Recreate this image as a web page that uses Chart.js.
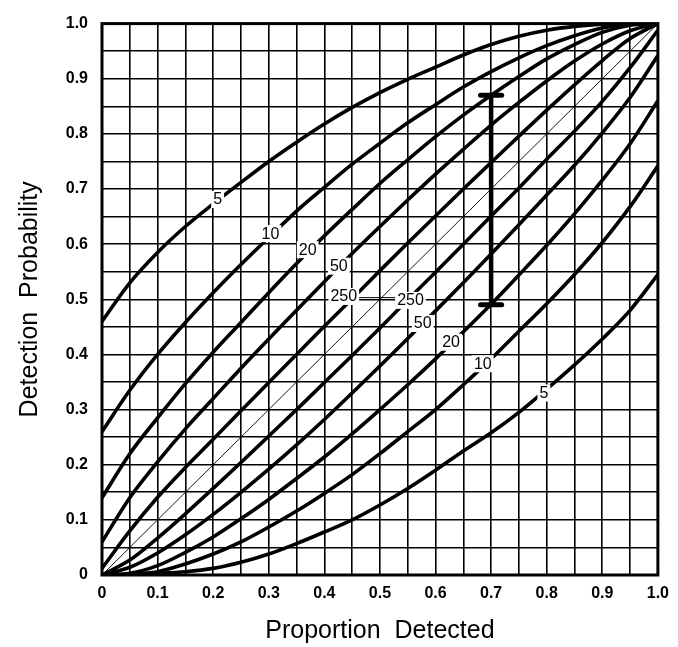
<!DOCTYPE html>
<html>
<head>
<meta charset="utf-8">
<title>Detection Probability</title>
<script src="https://cdn.jsdelivr.net/npm/chart.js@4.4.0/dist/chart.umd.min.js"></script>
<style>
  html, body { margin: 0; padding: 0; background: #fff; }
  #grafica { display: block; }
</style>
</head>
<body>
<canvas id="grafica" width="678" height="647"></canvas>
<script>
// Proportion detected (x) for every curve
var proporcion = [0, 0.05, 0.1, 0.15, 0.2, 0.25, 0.3, 0.35, 0.4, 0.45, 0.5, 0.55, 0.6, 0.65, 0.7, 0.75, 0.8, 0.85, 0.9, 0.95, 1.0];

// Upper limits
var sup5   = [0.46, 0.53, 0.585, 0.632, 0.673, 0.712, 0.75, 0.785, 0.818, 0.848, 0.875, 0.899, 0.921, 0.943, 0.962, 0.977, 0.988, 0.995, 0.999, 1, 1];
var sup10  = [0.26, 0.335, 0.4, 0.458, 0.512, 0.563, 0.612, 0.66, 0.703, 0.745, 0.783, 0.82, 0.853, 0.885, 0.913, 0.938, 0.96, 0.978, 0.992, 0.999, 1];
var sup20  = [0.14, 0.22, 0.285, 0.347, 0.404, 0.458, 0.512, 0.565, 0.615, 0.663, 0.71, 0.753, 0.795, 0.834, 0.87, 0.904, 0.936, 0.962, 0.984, 0.997, 1];
var sup50  = [0.06, 0.14, 0.205, 0.265, 0.32, 0.375, 0.428, 0.48, 0.532, 0.583, 0.632, 0.68, 0.727, 0.772, 0.816, 0.857, 0.896, 0.932, 0.963, 0.987, 1];
var sup250 = [0.012, 0.08, 0.141, 0.195, 0.246, 0.298, 0.349, 0.4, 0.451, 0.501, 0.552, 0.602, 0.651, 0.7, 0.748, 0.796, 0.843, 0.889, 0.933, 0.973, 1];

// Lower limits
var inf250 = [0, 0.027, 0.067, 0.111, 0.157, 0.204, 0.252, 0.3, 0.349, 0.398, 0.448, 0.499, 0.549, 0.6, 0.651, 0.702, 0.754, 0.805, 0.859, 0.92, 0.988];
var inf50  = [0, 0.014, 0.04, 0.073, 0.11, 0.15, 0.192, 0.236, 0.282, 0.33, 0.379, 0.429, 0.479, 0.53, 0.582, 0.635, 0.689, 0.743, 0.802, 0.866, 0.942];
var inf20  = [0, 0.003, 0.017, 0.041, 0.069, 0.102, 0.137, 0.175, 0.214, 0.256, 0.3, 0.345, 0.392, 0.441, 0.491, 0.544, 0.598, 0.655, 0.716, 0.782, 0.86];
var inf10  = [0, 0.001, 0.006, 0.02, 0.038, 0.06, 0.087, 0.116, 0.148, 0.182, 0.22, 0.26, 0.3, 0.345, 0.392, 0.442, 0.492, 0.545, 0.603, 0.668, 0.742];
var inf5   = [0, 0.001, 0.003, 0.006, 0.012, 0.023, 0.038, 0.057, 0.078, 0.1, 0.127, 0.157, 0.19, 0.225, 0.258, 0.295, 0.337, 0.381, 0.428, 0.48, 0.545];

// Thin diagonal (proportion = probability)
var diagX = [0, 1];
var diagY = [0, 1];

// Error bar at 0.7
var barraX = 0.7;
var barraMin = 0.49;
var barraMax = 0.87;
var barraTope = 0.019;

// Curve labels (sample size), placed on the curves
var etiquetas = [
  {texto: "5",   x: 0.208, y: 0.682},
  {texto: "10",  x: 0.303, y: 0.620},
  {texto: "20",  x: 0.370, y: 0.591},
  {texto: "50",  x: 0.426, y: 0.561},
  {texto: "250", x: 0.435, y: 0.506},
  {texto: "250", x: 0.555, y: 0.499},
  {texto: "50",  x: 0.577, y: 0.457},
  {texto: "20",  x: 0.628, y: 0.423},
  {texto: "10",  x: 0.685, y: 0.384},
  {texto: "5",   x: 0.795, y: 0.331}
];
// thin leader between the two 250 labels
var guia250 = {x1: 0.455, x2: 0.535, y: 0.503};

var ticksX = ["0", "0.1", "0.2", "0.3", "0.4", "0.5", "0.6", "0.7", "0.8", "0.9", "1.0"];

function puntos(xs, ys) {
  var res = [];
  for (var i = 0; i < xs.length; i++) {
    res.push({x: xs[i], y: ys[i]});
  }
  return res;
}

function curva(ys) {
  return {
    data: puntos(proporcion, ys),
    borderColor: "#000",
    borderWidth: 3.6,
    cubicInterpolationMode: "monotone",
    pointRadius: 0,
    fill: false
  };
}

var conjuntos = [
  curva(sup5), curva(sup10), curva(sup20), curva(sup50), curva(sup250),
  curva(inf250), curva(inf50), curva(inf20), curva(inf10), curva(inf5),
  {data: puntos(diagX, diagY), borderColor: "#000", borderWidth: 0.9, pointRadius: 0},
  // error bar and its caps
  {data: puntos([barraX, barraX], [barraMin, barraMax]), borderColor: "#000", borderWidth: 4.5, pointRadius: 0},
  {data: puntos([barraX - barraTope, barraX + barraTope], [barraMax, barraMax]), borderColor: "#000", borderWidth: 5, pointRadius: 0, borderCapStyle: "round"},
  {data: puntos([barraX - barraTope, barraX + barraTope], [barraMin, barraMin]), borderColor: "#000", borderWidth: 5, pointRadius: 0, borderCapStyle: "round"}
];

// Labels with white box over the curves + outer frame
var pluginEtiquetas = {
  id: "etiquetas",
  afterDatasetsDraw: function (chart) {
    var ctx = chart.ctx;
    var sx = chart.scales.x, sy = chart.scales.y;
    ctx.save();
    ctx.strokeStyle = "#000";
    ctx.lineWidth = 1;
    ctx.beginPath();
    ctx.moveTo(sx.getPixelForValue(guia250.x1), sy.getPixelForValue(guia250.y));
    ctx.lineTo(sx.getPixelForValue(guia250.x2), sy.getPixelForValue(guia250.y));
    ctx.stroke();
    ctx.font = "16px 'Liberation Sans', Arial, sans-serif";
    ctx.textAlign = "center";
    ctx.textBaseline = "middle";
    for (var i = 0; i < etiquetas.length; i++) {
      var e = etiquetas[i];
      var px = sx.getPixelForValue(e.x), py = sy.getPixelForValue(e.y);
      var w = ctx.measureText(e.texto).width;
      ctx.fillStyle = "#fff";
      ctx.fillRect(px - w / 2 - 2, py - 8, w + 4, 17);
      ctx.fillStyle = "#000";
      ctx.fillText(e.texto, px, py + 1);
    }
    ctx.restore();
  },
  afterDraw: function (chart) {
    var a = chart.chartArea;
    var ctx = chart.ctx;
    ctx.save();
    ctx.strokeStyle = "#000";
    ctx.lineWidth = 3;
    ctx.strokeRect(a.left, a.top, a.right - a.left, a.bottom - a.top);
    ctx.restore();
  }
};

Chart.defaults.font.family = "'Liberation Sans', Arial, sans-serif";
Chart.defaults.color = "#000";

var ctx = document.getElementById("grafica").getContext("2d");
var grafica = new Chart(ctx, {
  type: "line",
  data: {datasets: conjuntos},
  plugins: [pluginEtiquetas],
  options: {
    responsive: false,
    animation: false,
    layout: {padding: {left: 0, top: 20, right: 17, bottom: 0}},
    plugins: {legend: {display: false}, tooltip: {enabled: false}},
    scales: {
      x: {
        type: "linear",
        min: 0, max: 1,
        afterFit: function (s) { s.height = 72; },
        grid: {color: "#000", lineWidth: 1.6, drawTicks: false},
        border: {display: false},
        ticks: {
          stepSize: 0.05, autoSkip: false, maxRotation: 0, padding: 9,
          font: {size: 16, weight: "bold"},
          callback: function (v, i) { return i % 2 ? "" : ticksX[i / 2]; }
        },
        title: {display: true, text: "Proportion  Detected", font: {size: 25}, padding: {top: 0, bottom: 1}}
      },
      y: {
        type: "linear",
        min: 0, max: 1,
        afterFit: function (s) { s.width = 102; },
        grid: {color: "#000", lineWidth: 1.6, drawTicks: false},
        border: {display: false},
        ticks: {
          stepSize: 0.05, autoSkip: false, padding: 14,
          font: {size: 16, weight: "bold"},
          callback: function (v, i) { return i % 2 ? "" : ticksX[i / 2]; }
        },
        title: {display: true, text: "Detection  Probability", font: {size: 25}, padding: {top: 15, bottom: 0}}
      }
    }
  }
});
</script>
</body>
</html>
